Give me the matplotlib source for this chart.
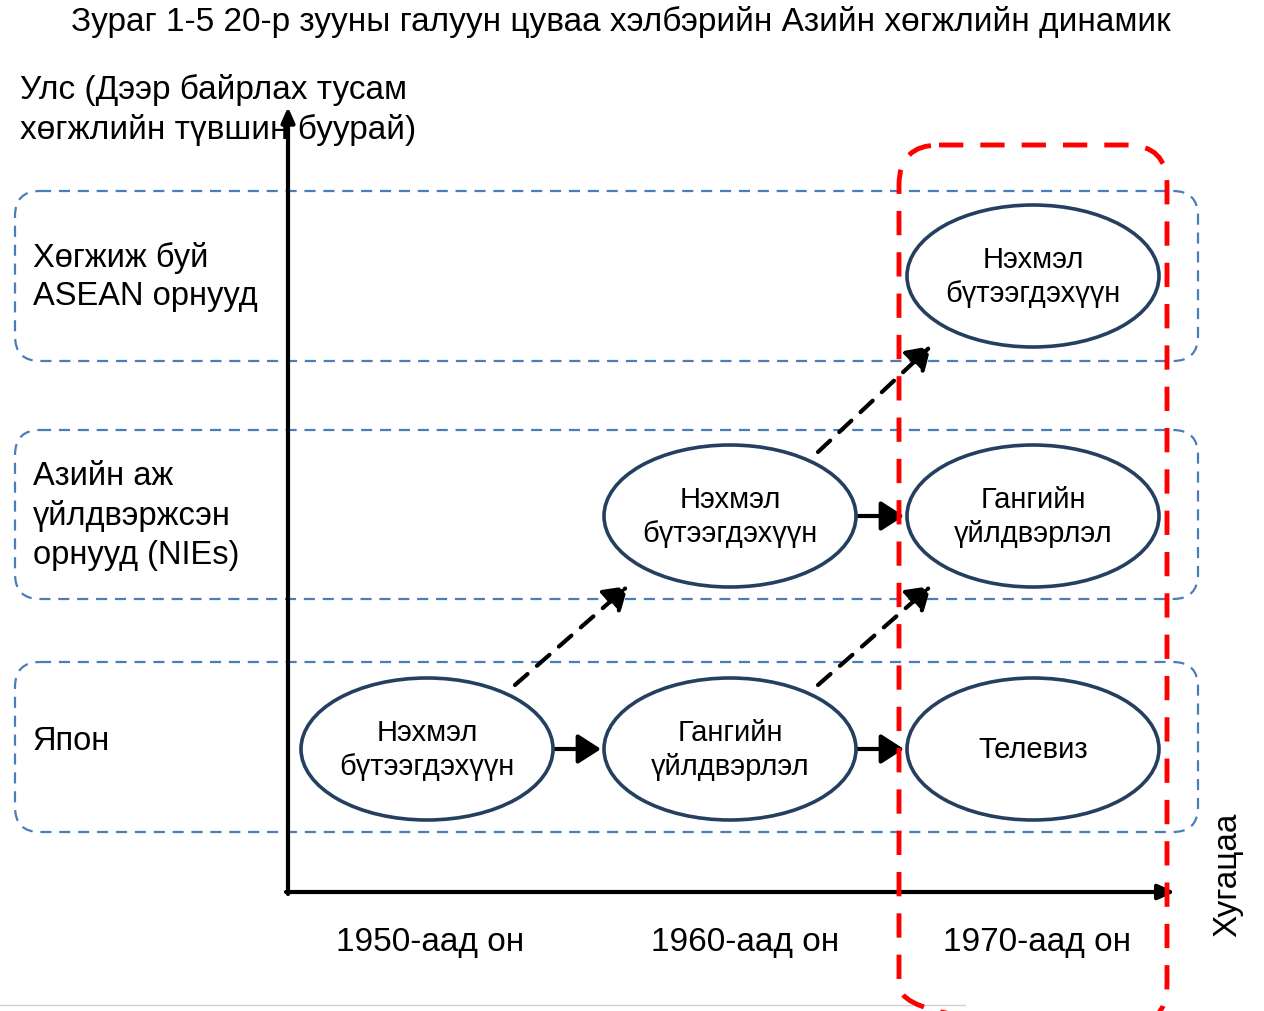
import matplotlib.pyplot as plt
from matplotlib.patches import Ellipse, FancyBboxPatch, FancyArrowPatch

plt.rcParams['font.family'] = ['Liberation Sans', 'DejaVu Sans']

title = 'Зураг 1-5 20-р зууны галуун цуваа хэлбэрийн Азийн хөгжлийн динамик'
y_label = 'Улс (Дээр байрлах тусам\nхөгжлийн түвшин буурай)'
x_label = 'Хугацаа'
decades = ['1950-аад он', '1960-аад он', '1970-аад он']
rows = ['Хөгжиж буй\nASEAN орнууд', 'Азийн аж\nүйлдвэржсэн\nорнууд (NIEs)', 'Япон']
# (decade index, row index, industry)
nodes = [
    (0, 2, 'Нэхмэл\nбүтээгдэхүүн'),
    (1, 2, 'Гангийн\nүйлдвэрлэл'),
    (2, 2, 'Телевиз'),
    (1, 1, 'Нэхмэл\nбүтээгдэхүүн'),
    (2, 1, 'Гангийн\nүйлдвэрлэл'),
    (2, 0, 'Нэхмэл\nбүтээгдэхүүн'),
]
# same row: solid arrows, moved to next row: dashed arrows
solid_links = [(0, 1), (1, 2), (3, 4)]
dashed_links = [(0, 3), (1, 4), (3, 5)]

col_x = [427, 730, 1033]
col_lbl_x = [430, 745, 1037]
row_y = [277, 517, 750]
row_box = [(192, 362), (431, 600), (663, 833)]
row_lbl_y = [277, 516, 741]
ew, eh = 252, 142

fig = plt.figure(figsize=(12.64, 10.12), dpi=100)
ax = fig.add_axes([0, 0, 1, 1])
ax.set_xlim(0, 1264)
ax.set_ylim(1012, 0)
ax.axis('off')

blue = '#4a7ebb'
navy = '#243f60'

ax.text(621, 22, title, ha='center', va='center', fontsize=24)
ax.text(20, 110, y_label, ha='left', va='center', fontsize=24, linespacing=1.32)
ax.text(1228, 875, x_label, ha='center', va='center', fontsize=24, rotation=90)

# row bands
for (y0, y1), lbl, ly in zip(row_box, rows, row_lbl_y):
    ax.add_patch(FancyBboxPatch((15, y0), 1183, y1 - y0,
                                boxstyle='round,pad=0,rounding_size=25',
                                fill=False, ec=blue, lw=1.6, ls=(0, (5, 3.5))))
    ax.text(33, ly, lbl, ha='left', va='center', fontsize=23.5, linespacing=1.33)

# axes arrows
ax.annotate('', xy=(288, 108), xytext=(288, 895),
            arrowprops=dict(arrowstyle='-|>,head_length=0.9,head_width=0.4', lw=3, color='black',
                            shrinkA=0, shrinkB=0))
ax.annotate('', xy=(1175, 893), xytext=(286, 893),
            arrowprops=dict(arrowstyle='-|>,head_length=1.0,head_width=0.45', lw=3, color='black',
                            shrinkA=0, shrinkB=0))

for x, d in zip(col_lbl_x, decades):
    ax.text(x, 943, d, ha='center', va='center', fontsize=24)

# nodes
pos = []
for ci, ri, lbl in nodes:
    cx, cy = col_x[ci], row_y[ri]
    pos.append((cx, cy))
    ax.add_patch(Ellipse((cx, cy), ew, eh, fill=False, ec=navy, lw=2.6, zorder=3))
    ax.text(cx, cy, lbl, ha='center', va='center', fontsize=21, linespacing=1.27, zorder=4)

for a, b in solid_links:
    (x0, y0), (x1, y1) = pos[a], pos[b]
    ax.add_patch(FancyArrowPatch((x0 + ew / 2 + 2, y1), (x1 - ew / 2 - 3, y1),
                                 arrowstyle='-|>,head_length=14,head_width=9', lw=3,
                                 color='black', mutation_scale=1, shrinkA=0, shrinkB=0))

for a, b in dashed_links:
    (x0, y0), (x1, y1) = pos[a], pos[b]
    ax.add_patch(FancyArrowPatch((x0 + 88, y0 - 64), (x1 - 102, y1 + 70),
                                 arrowstyle='-|>,head_length=14,head_width=9', lw=3,
                                 ls=(0, (4, 3)), color='black', mutation_scale=1,
                                 shrinkA=0, shrinkB=0))

# highlight on the 1970s
ax.add_patch(FancyBboxPatch((899, 146), 268, 880,
                            boxstyle='round,pad=0,rounding_size=40',
                            fill=False, ec='#ff0000', lw=3.5, ls=(0, (5, 3.5)), zorder=5))

ax.plot([0, 965], [1006, 1006], color='#d0d0d0', lw=1)

fig.savefig('out.png', dpi=100)
